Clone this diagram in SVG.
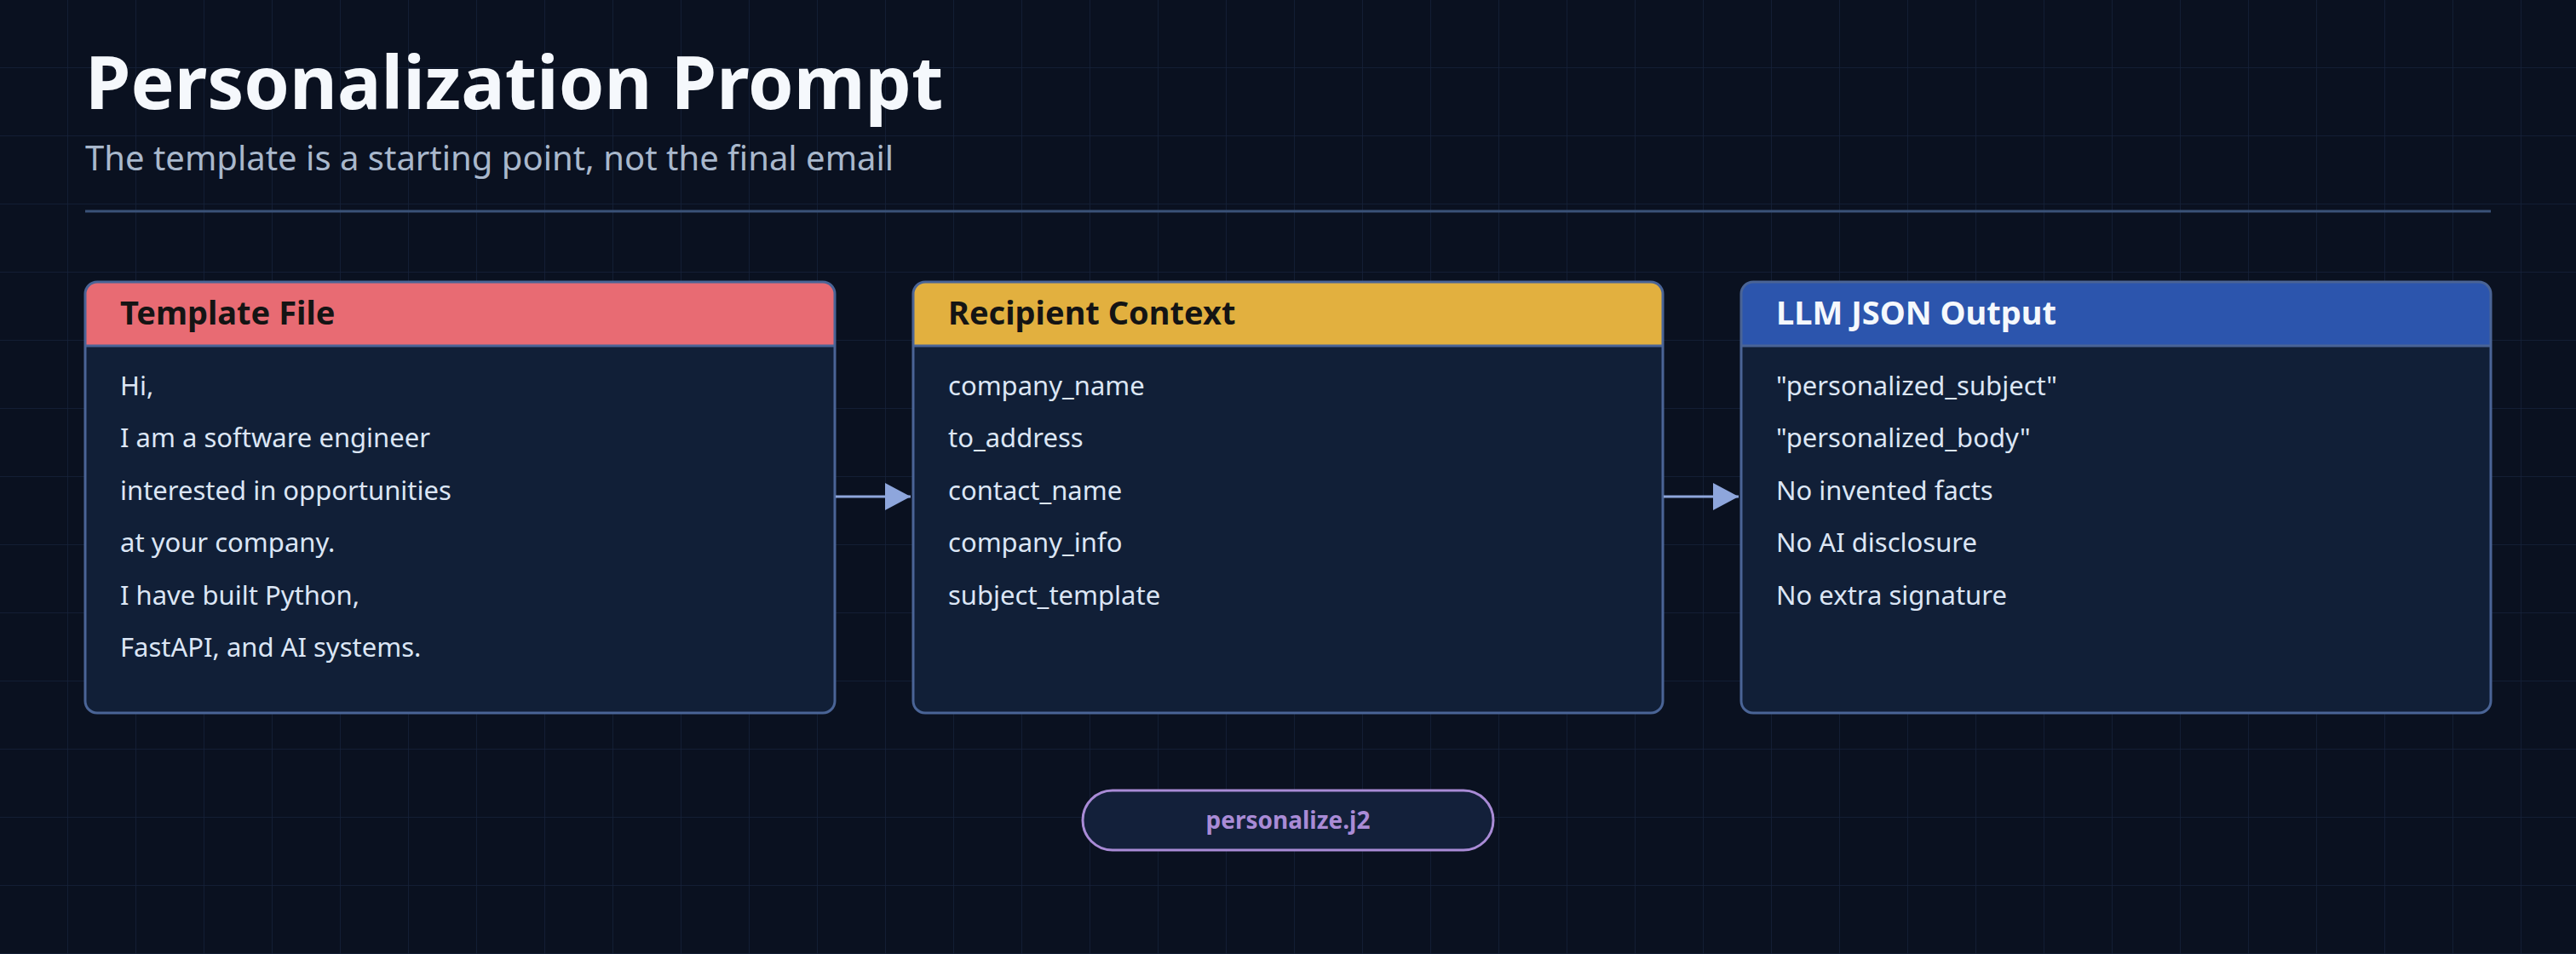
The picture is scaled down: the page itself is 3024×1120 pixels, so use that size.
<svg xmlns="http://www.w3.org/2000/svg" width="3024" height="1120" viewBox="0 0 3024 1120">
<defs>
<pattern id="grid" width="80" height="80" patternUnits="userSpaceOnUse"><path d="M80 0V80M0 80H80" fill="none" stroke="#16223a" stroke-width="1.5"/></pattern>
<marker id="ah" markerWidth="32" markerHeight="34" refX="30" refY="16" orient="auto" markerUnits="userSpaceOnUse"><path d="M0 0L30 16L0 32Z" fill="#8ea6dc"/></marker>
<style>
text{font-family:"Noto Sans","Open Sans",sans-serif}
.box{fill:#111f37}
.out{fill:none;stroke:#4a6496;stroke-width:3}
.ht{font-size:38px;font-weight:700}
.bt{font-size:31px;fill:#dce6f5}
.conn{stroke:#8ea6dc;stroke-width:3;fill:none}
</style>
</defs>
<rect width="3024" height="1120" fill="#0a1120"/>
<rect width="3024" height="1120" fill="url(#grid)"/>
<text x="100" y="128" font-size="86" font-weight="700" fill="#f5f8fc">Personalization Prompt</text>
<text x="100" y="200" font-size="40" fill="#a9b8cc">The template is a starting point, not the final email</text>
<line x1="100" y1="248" x2="2924" y2="248" stroke="#3a5278" stroke-width="3"/>
<g id="template">
<rect class="box" x="100" y="331" width="880" height="506" rx="14"/>
<path d="M100 406V345a14 14 0 0 1 14-14H966a14 14 0 0 1 14 14V406Z" fill="#e86b73"/>
<line x1="100" y1="406" x2="980" y2="406" stroke="#4a6496" stroke-width="3"/>
<rect class="out" x="100" y="331" width="880" height="506" rx="14"/>
<text class="ht" x="141" y="381" fill="#141414">Template File</text>
<text class="bt" x="141" y="464">Hi,</text>
<text class="bt" x="141" y="525">I am a software engineer</text>
<text class="bt" x="141" y="587">interested in opportunities</text>
<text class="bt" x="141" y="648">at your company.</text>
<text class="bt" x="141" y="710">I have built Python,</text>
<text class="bt" x="141" y="771">FastAPI, and AI systems.</text>
</g>
<g id="recipient">
<rect class="box" x="1072" y="331" width="880" height="506" rx="14"/>
<path d="M1072 406V345a14 14 0 0 1 14-14H1938a14 14 0 0 1 14 14V406Z" fill="#e2b03f"/>
<line x1="1072" y1="406" x2="1952" y2="406" stroke="#4a6496" stroke-width="3"/>
<rect class="out" x="1072" y="331" width="880" height="506" rx="14"/>
<text class="ht" x="1113" y="381" fill="#141414">Recipient Context</text>
<text class="bt" x="1113" y="464">company_name</text>
<text class="bt" x="1113" y="525">to_address</text>
<text class="bt" x="1113" y="587">contact_name</text>
<text class="bt" x="1113" y="648">company_info</text>
<text class="bt" x="1113" y="710">subject_template</text>
</g>
<g id="output">
<rect class="box" x="2044" y="331" width="880" height="506" rx="14"/>
<path d="M2044 406V345a14 14 0 0 1 14-14H2910a14 14 0 0 1 14 14V406Z" fill="#2c55ad"/>
<line x1="2044" y1="406" x2="2924" y2="406" stroke="#4a6496" stroke-width="3"/>
<rect class="out" x="2044" y="331" width="880" height="506" rx="14"/>
<text class="ht" x="2085" y="381" fill="#f5f8fc">LLM JSON Output</text>
<text class="bt" x="2085" y="464">"personalized_subject"</text>
<text class="bt" x="2085" y="525">"personalized_body"</text>
<text class="bt" x="2085" y="587">No invented facts</text>
<text class="bt" x="2085" y="648">No AI disclosure</text>
<text class="bt" x="2085" y="710">No extra signature</text>
</g>
<g id="connectors">
<line class="conn" x1="981" y1="583" x2="1069" y2="583" marker-end="url(#ah)"/>
<line class="conn" x1="1953" y1="583" x2="2041" y2="583" marker-end="url(#ah)"/>
</g>
<g id="file">
<rect x="1271" y="928" width="482" height="70" rx="35" fill="#13203a" stroke="#a98bd6" stroke-width="3"/>
<text x="1512" y="973" font-size="28" font-weight="700" fill="#a98bd6" text-anchor="middle">personalize.j2</text>
</g>
</svg>
